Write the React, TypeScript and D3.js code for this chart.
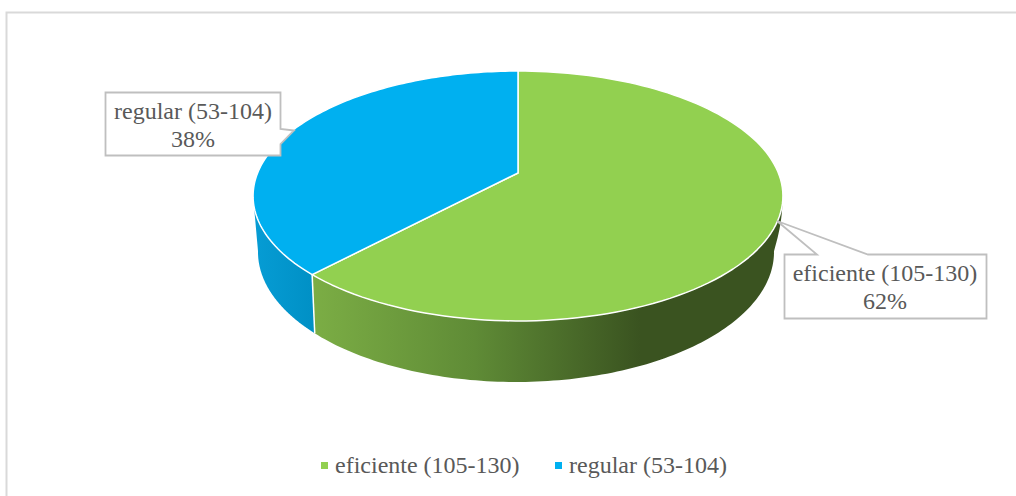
import React from "react";
import * as d3 from "d3";

const categories = ["eficiente (105-130)", "regular (53-104)"];
const shares = [62, 38];
const percentLabels = ["62%", "38%"];
const topColors = ["#92D050", "#00B0F0"];

const FONT = '"Liberation Serif", "Times New Roman", serif';
const TEXT = "#595959";
const CALLOUT = "#BFBFBF";

// A tilted disc: a unit circle sent through a homography, so the apex sits
// behind the centre of the drawn ellipse.
type Plane = { cx: number; apexY: number; a: number; c: number; k: number };
const topPlane: Plane = { cx: 518, apexY: 173, a: 88.9, c: -0.184, k: 260.4 };
const basePlane: Plane = { cx: 516, apexY: 227.3, a: 82.1, c: -0.19, k: 253.3 };

function project(angle: number, p: Plane): [number, number] {
  const u = Math.sin(angle);
  const v = -Math.cos(angle);
  const w = 1 + p.c * v;
  return [p.cx + (p.k * u) / w, (p.a * v + p.apexY) / w];
}

const samples = (from: number, to: number) =>
  d3.range(0, 121).map((i) => from + ((to - from) * i) / 120);

const line = d3.line<[number, number]>();

function topPath(start: number, end: number) {
  const rim = samples(start, end).map((t) => project(t, topPlane));
  return line([[topPlane.cx, topPlane.apexY], ...rim])! + "Z";
}

// Wall between the two rims; `bulge` pushes the vertical silhouette at `start` outward.
function sidePath(start: number, end: number, bulge = 0) {
  const upper = samples(start, end).map((t) => project(t, topPlane));
  const lower = samples(end, start).map((t) => project(t, basePlane));
  const a = upper[0];
  const b = lower[lower.length - 1];
  const silhouette = d3.range(1, 12).map((i): [number, number] => {
    const f = i / 12;
    return [a[0] + (b[0] - a[0]) * f + bulge * Math.sin(Math.PI * f), a[1] + (b[1] - a[1]) * f];
  });
  return line([...upper, ...lower, ...silhouette.reverse()])! + "Z";
}

export default function App() {
  const arcs = d3.pie<number>().sort(null)(shares);
  const rightEdge = (100.6 * Math.PI) / 180;
  const leftEdge = (259.4 * Math.PI) / 180;
  const [green, blue] = arcs;

  return (
    <svg
      width={1016}
      height={496}
      style={{ position: "absolute", left: 0, top: 0, background: "#fff" }}
    >
      <defs>
        <linearGradient id="greenSide" gradientUnits="userSpaceOnUse" x1={310} x2={640} y1={0} y2={0}>
          <stop offset="0" stopColor="#7CAE45" />
          <stop offset="0.5" stopColor="#5F8B36" />
          <stop offset="1" stopColor="#3A5320" />
        </linearGradient>
        <linearGradient id="blueSide" gradientUnits="userSpaceOnUse" x1={255} x2={315} y1={0} y2={0}>
          <stop offset="0" stopColor="#069CD4" />
          <stop offset="1" stopColor="#0090C5" />
        </linearGradient>
      </defs>

      {/* frame */}
      <path d="M6.5 496V12.5H1016" fill="none" stroke="#D9D9D9" strokeWidth={2} />

      {/* pie wall */}
      <path d={sidePath(rightEdge, green.endAngle, 2)} fill="url(#greenSide)" />
      <path d={sidePath(leftEdge, blue.startAngle)} fill="url(#blueSide)" />
      <path
        d={line([project(blue.startAngle, topPlane), project(blue.startAngle, basePlane)])!}
        stroke="#fff"
        strokeWidth={1.5}
        fill="none"
      />

      {/* pie top */}
      {arcs.map((d, i) => (
        <path
          key={categories[i]}
          d={topPath(d.startAngle, d.endAngle)}
          fill={topColors[i]}
          stroke="#fff"
          strokeWidth={1.5}
          strokeLinejoin="round"
        />
      ))}

      {/* callouts */}
      <path
        d="M105.5 92.5H280.5V129L294 130.5L280.5 144V155.5H105.5Z"
        fill="#fff"
        stroke={CALLOUT}
        strokeWidth={1.8}
      />
      <text fontFamily={FONT} fontSize={24} fill={TEXT} textAnchor="middle">
        <tspan x={193} y={119}>{categories[1]}</tspan>
        <tspan x={193} y={147}>{percentLabels[1]}</tspan>
      </text>

      <path
        d="M784.5 254.5H817L777 221L868 254.5H986.5V318.5H784.5Z"
        fill="#fff"
        stroke={CALLOUT}
        strokeWidth={1.8}
      />
      <text fontFamily={FONT} fontSize={24} fill={TEXT} textAnchor="middle">
        <tspan x={885} y={281}>{categories[0]}</tspan>
        <tspan x={885} y={309}>{percentLabels[0]}</tspan>
      </text>

      {/* legend */}
      <rect x={321} y={462} width={7} height={7} fill={topColors[0]} />
      <text x={335} y={473} fontFamily={FONT} fontSize={24} fill={TEXT}>{categories[0]}</text>
      <rect x={555} y={462} width={7} height={7} fill={topColors[1]} />
      <text x={569} y={473} fontFamily={FONT} fontSize={24} fill={TEXT}>{categories[1]}</text>
    </svg>
  );
}
